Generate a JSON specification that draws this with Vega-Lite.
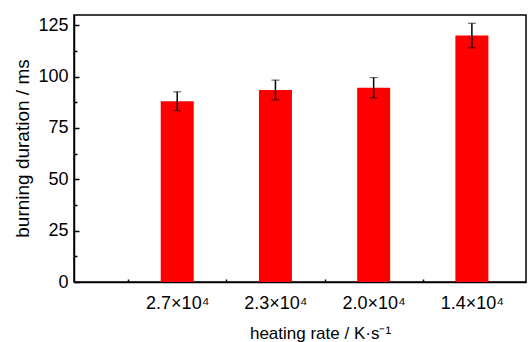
{
  "$schema": "https://vega.github.io/schema/vega-lite/v6.json",
  "width": 452,
  "height": 267,
  "autosize": {"type": "none"},
  "padding": {"left": 74, "top": 15, "right": 2, "bottom": 60},
  "background": "white",
  "config": {
    "view": {"stroke": "#000", "strokeWidth": 1.5},
    "font": "Liberation Sans",
    "axis": {
      "grid": false,
      "domainColor": "#000",
      "domainWidth": 1.5,
      "tickColor": "#000",
      "tickWidth": 1.5,
      "labelColor": "#000",
      "titleColor": "#000",
      "labelFont": "Liberation Sans",
      "titleFont": "Liberation Sans",
      "labelFontSize": 18,
      "titleFontSize": 19,
      "titleFontWeight": "normal"
    }
  },
  "data": {
    "values": [
      {"rate": 1, "label": "2.7×10⁴", "duration": 88, "err": 4.6},
      {"rate": 2, "label": "2.3×10⁴", "duration": 93.5, "err": 4.8},
      {"rate": 3, "label": "2.0×10⁴", "duration": 94.6, "err": 4.9},
      {"rate": 4, "label": "1.4×10⁴", "duration": 120, "err": 6}
    ]
  },
  "layer": [
    {
      "mark": {"type": "bar", "color": "#ff0000", "width": 33},
      "encoding": {
        "x": {
          "field": "rate",
          "type": "quantitative",
          "scale": {"domain": [0, 4.5], "nice": false, "zero": false},
          "axis": {
            "values": [1, 2, 3, 4],
            "labelExpr": "datum.value == 1 ? '2.7×10⁴' : datum.value == 2 ? '2.3×10⁴' : datum.value == 3 ? '2.0×10⁴' : '1.4×10⁴'",
            "title": "heating rate / K·s⁻¹",
            "titleFontSize": 17,
            "tickSize": -5,
            "labelPadding": 17,
            "titleX": 246,
            "titleY": 56,
            "titleBaseline": "alphabetic"
          }
        },
        "y": {
          "field": "duration",
          "type": "quantitative",
          "scale": {"domain": [0, 130], "nice": false},
          "axis": {
            "values": [0, 25, 50, 75, 100, 125],
            "title": "burning duration / ms",
            "tickSize": -5,
            "labelPadding": 11,
            "titleX": -46,
            "titleY": 133,
            "titleBaseline": "alphabetic"
          }
        }
      }
    },
    {
      "mark": {
        "type": "errorbar",
        "color": "#000",
        "ticks": {"size": 8, "color": "#000", "strokeWidth": 1.5},
        "rule": {"strokeWidth": 1.5}
      },
      "encoding": {
        "x": {
          "field": "rate",
          "type": "quantitative",
          "axis": {
            "orient": "bottom",
            "values": [0.5, 1.5, 2.5, 3.5],
            "labels": false,
            "title": null,
            "domain": false,
            "tickSize": -3
          }
        },
        "y": {
          "field": "duration",
          "type": "quantitative",
          "axis": {
            "orient": "left",
            "values": [12.5, 37.5, 62.5, 87.5, 112.5],
            "labels": false,
            "title": null,
            "domain": false,
            "tickSize": -3
          }
        },
        "yError": {"field": "err"}
      }
    }
  ],
  "resolve": {"axis": {"x": "independent", "y": "independent"}}
}
